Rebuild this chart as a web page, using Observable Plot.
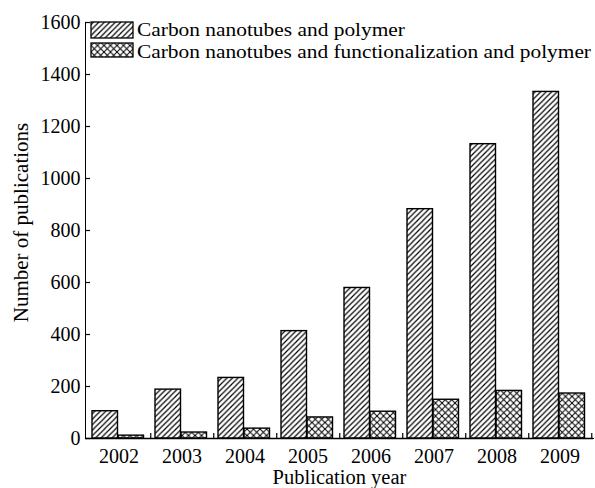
<!DOCTYPE html>
<html>
<head>
<meta charset="utf-8">
<script src="https://cdn.jsdelivr.net/npm/d3@7"></script>
<script src="https://cdn.jsdelivr.net/npm/@observablehq/plot@0.6"></script>
<style>
  html, body { margin: 0; padding: 0; background: #fff; }
  #wrap { position: relative; width: 595px; height: 488px; font-family: "Liberation Serif", "Times New Roman", serif; }
  #legend { position: absolute; left: 0; top: 0; pointer-events: none; }
</style>
</head>
<body>
<svg width="0" height="0" style="position:absolute">
  <defs>
    <pattern id="hatch" patternUnits="userSpaceOnUse" width="5.5" height="5.5">
      <path d="M-1,1 l2,-2 M0,5.5 l5.5,-5.5 M4.5,6.5 l2,-2" stroke="#000" stroke-width="1.2" fill="none"/>
    </pattern>
    <pattern id="cross" patternUnits="userSpaceOnUse" width="6.5" height="6.5">
      <path d="M0,0 L6.5,6.5 M0,6.5 L6.5,0" stroke="#000" stroke-width="1" fill="none"/>
    </pattern>
  </defs>
</svg>
<div id="wrap"></div>
<script>
const years = ["2002", "2003", "2004", "2005", "2006", "2007", "2008", "2009"];
const cntPolymer = [105, 188, 233, 413, 579, 882, 1132, 1333];
const cntFunctional = [11, 23, 38, 81, 103, 149, 183, 173];
const seriesNames = ["Carbon nanotubes and polymer", "Carbon nanotubes and functionalization and polymer"];
const yTicks = [0, 200, 400, 600, 800, 1000, 1200, 1400, 1600];
const xTitle = "Publication year";
const yTitle = "Number of publications";

const W = 595, H = 488, mL = 85, mR = 2, mT = 22, mB = 50;
const plotW = W - mL - mR, plotH = H - mT - mB;
const bw = plotW / years.length;
const FONT = '"Liberation Serif", "Times New Roman", serif';

const rows = years.map((y, i) => ({year: y, a: cntPolymer[i], b: cntFunctional[i]}));

const chart = Plot.plot({
  width: W, height: H,
  marginLeft: mL, marginRight: mR, marginTop: mT, marginBottom: mB,
  style: {fontFamily: FONT, fontSize: "20px", color: "#000", background: "#fff"},
  x: {domain: years, padding: 0, tickSize: 0, tickPadding: 10, label: null, line: true},
  y: {domain: [0, 1600], ticks: yTicks, tickFormat: d => String(d), tickSize: 0, tickPadding: 5, label: null, line: true},
  marks: [
    Plot.barY(rows, {x: "year", y: "a", fill: "url(#hatch)", stroke: "#000", strokeWidth: 1.4, insetLeft: 5, insetRight: bw - 31}),
    Plot.barY(rows, {x: "year", y: "b", fill: "url(#cross)", stroke: "#000", strokeWidth: 1.4, insetLeft: 31, insetRight: 6.5}),
    Plot.ruleY(yTicks, {stroke: "#000", strokeWidth: 1.2, insetRight: plotW - 5}),
    Plot.ruleX(years, {stroke: "#000", strokeWidth: 1.2, dx: bw / 2, insetTop: plotH - 5}),
    Plot.ruleY([0], {stroke: "#000", strokeWidth: 1.4}),
    Plot.text([xTitle], {text: d => d, frameAnchor: "bottom", textAnchor: "middle", lineAnchor: "middle", dy: 38.5, fontSize: 20.5}),
    Plot.text([yTitle], {text: d => d, frameAnchor: "left", textAnchor: "middle", lineAnchor: "middle", dx: -64, dy: -8, rotate: -90, fontSize: 21})
  ]
});
document.getElementById("wrap").appendChild(chart);

// legend overlay
const leg = d3.select("#wrap").append("svg").attr("id", "legend").attr("width", W).attr("height", 70);
const legItems = [
  {name: seriesNames[0], fill: "url(#hatch)", y: 22, h: 16, base: 36, len: 268},
  {name: seriesNames[1], fill: "url(#cross)", y: 43, h: 14, base: 58, len: 454}
];
legItems.forEach(it => {
  leg.append("rect").attr("x", 91).attr("y", it.y).attr("width", 42).attr("height", it.h)
    .attr("fill", "#fff");
  leg.append("rect").attr("x", 91).attr("y", it.y).attr("width", 42).attr("height", it.h)
    .attr("fill", it.fill).attr("stroke", "#000").attr("stroke-width", 1.3);
  leg.append("text").attr("x", 137).attr("y", it.base).text(it.name)
    .attr("font-family", FONT).attr("font-size", 19.8)
    .attr("textLength", it.len).attr("lengthAdjust", "spacingAndGlyphs");
});
</script>
</body>
</html>
